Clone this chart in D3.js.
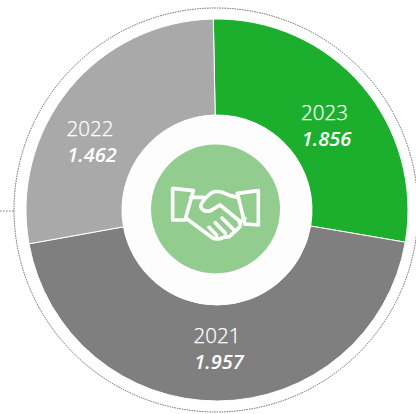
<!DOCTYPE html>
<html><head><meta charset="utf-8">
<script src="https://cdn.jsdelivr.net/npm/d3@7"></script>
<style>html,body{margin:0;padding:0;background:#fff}svg{display:block}</style>
</head><body><svg id="c" width="416" height="414"></svg>
<script>
const years = ["2023","2021","2022"];
const valueLabels = ["1.856","1.957","1.462"];
// The reference's slices are not proportional to their printed values: these are the sweeps (degrees).
const sweeps = [100.8,160.1,99.1];
const colors = ["#1caf2e","#7f7f7f","#a9a9a9"];
const startAngle = -1.1;

const svg = d3.select("#c");
const cx=217, cy=210, R=191, r=95;
const toRad = d => d*Math.PI/180;
const g = svg.append("g").attr("transform",`translate(${cx},${cy})`);

// dotted outer ring and its leader
svg.append("line").attr("x1",0).attr("x2",14).attr("y1",211).attr("y2",211)
  .attr("stroke","#555").attr("stroke-width",0.8).attr("stroke-dasharray","1.5 1.5");
g.append("circle").attr("r",202).attr("cx",-1).attr("fill","none")
  .attr("stroke","#444").attr("stroke-width",0.8).attr("stroke-dasharray","1.5 1");

const pie = d3.pie().sort(null).value(d=>d)
  .startAngle(toRad(startAngle)).endAngle(toRad(startAngle+360));
const arc = d3.arc().innerRadius(r).outerRadius(R);
const arcs = pie(sweeps);
g.selectAll("path.s").data(arcs).join("path").attr("class","s")
  .attr("d",arc).attr("fill",(d,i)=>colors[i])
  .attr("stroke","#fff").attr("stroke-width",1);

g.append("circle").attr("r",r).attr("fill","#fdfdfd");
g.append("circle").attr("cx",-1.5).attr("cy",-1).attr("r",64.5).attr("fill","#92cc8e");

// labels
const off = [[107.5,-90],[0,133],[-127,-74]];
const labels = g.selectAll("g.l").data(arcs).join("g").attr("class","l");
labels.append("text").attr("x",(d,i)=>off[i][0]).attr("y",(d,i)=>off[i][1])
  .attr("text-anchor","middle").attr("fill","#fff").attr("stroke","#fff").attr("stroke-width",0.25)
  .attr("font-family","'Open Sans'").attr("font-weight",300).attr("font-size",20.5)
  .text((d,i)=>years[i]);
labels.append("text").attr("x",(d,i)=>off[i][0]+2).attr("y",(d,i)=>off[i][1]+26)
  .attr("text-anchor","middle").attr("fill","#fff")
  .attr("font-family","'Open Sans'").attr("font-weight",600).attr("font-style","italic").attr("font-size",20)
  .text((d,i)=>valueLabels[i]);

// handshake icon
const icon = svg.append("g").attr("transform","translate(140,140) scale(0.3333)")
  .attr("fill","none").attr("stroke","#fff").attr("stroke-width",11)
  .attr("stroke-linejoin","round").attr("stroke-linecap","round");
["M98 145 L160 152 L135 240 L98 240 Z",
 "M355 152 L292 160 L315 252 L355 255 Z",
 "M152 172 L190 172",
 "M138 235 L215 292 Q232 302 250 292 L268 290 L298 262 Q306 250 295 240 L240 195 L212 212 Q190 218 182 200 Q185 180 215 158 Q235 150 255 160 L270 167 L295 172",
 "M298 248 L315 235",
 "M207 262 L230 286","M226 248 L256 280","M246 234 L280 268"
].forEach(p=>icon.append("path").attr("d",p));
</script></body></html>
